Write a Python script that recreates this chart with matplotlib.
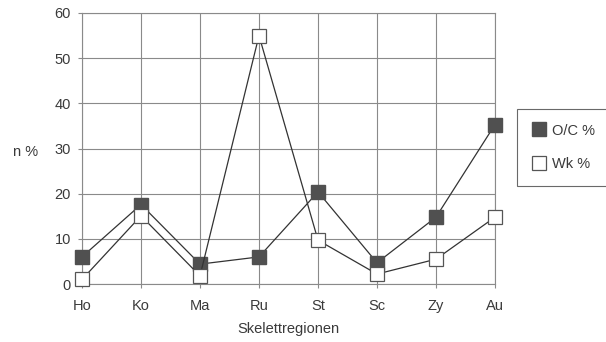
import matplotlib
matplotlib.use("Agg")
import matplotlib.pyplot as plt

categories = ["Ho", "Ko", "Ma", "Ru", "St", "Sc", "Zy", "Au"]
oc_values = [6, 17.6, 4.4, 6, 20.4, 4.7, 14.8, 35.3]
wk_values = [1.0, 15.1, 1.8, 55, 9.7, 2.2, 5.5, 14.8]
y_ticks = [0, 10, 20, 30, 40, 50, 60]

plt.rcParams['font.family'] = ['Liberation Sans', 'DejaVu Sans']
text_color = "#3a3a3a"
grid_color = "#8a8a8a"
fs = 10.5

fig = plt.figure(figsize=(6.06, 3.42), dpi=100)
ax = fig.add_axes([82/606, 1-284/342, (495-82)/606, (284-13)/342])

x = list(range(len(categories)))
ax.plot(x, oc_values, color="#333333", lw=0.9, marker="s", markersize=10,
        markerfacecolor="#505050", markeredgecolor="#505050", label="O/C %",
        zorder=3, clip_on=False)
ax.plot(x, wk_values, color="#333333", lw=0.9, marker="s", markersize=10,
        markerfacecolor="white", markeredgecolor="#555555", markeredgewidth=0.9,
        label="Wk %", zorder=4, clip_on=False)

ax.set_xlim(0, len(categories) - 1)
ax.set_ylim(0, 60)
ax.set_xticks(x)
ax.set_xticklabels(categories)
ax.set_yticks(y_ticks)
ax.grid(True, color=grid_color, lw=0.8)
ax.set_axisbelow(True)
for s in ax.spines.values():
    s.set_color(grid_color)
    s.set_linewidth(0.8)
    s.set_zorder(1)
ax.tick_params(axis="both", colors=grid_color, labelcolor=text_color,
               labelsize=fs, length=3, width=0.8, direction="out")
ax.tick_params(axis="x", pad=8)
ax.tick_params(axis="y", pad=5)
ax.set_xlabel("Skelettregionen", fontsize=fs, color=text_color, labelpad=6)
fig.text(13/606, 1-152/342, "n %", fontsize=fs, color=text_color, va="center", ha="left")

leg = fig.legend(loc="upper left", bbox_to_anchor=(517/606, 1-109/342),
                 frameon=True, fancybox=False, fontsize=fs, handlelength=1.0,
                 handletextpad=0.4, labelspacing=1.35, borderpad=1.0,
                 borderaxespad=0, labelcolor=text_color)
leg.get_frame().set_edgecolor("#444444")
leg.get_frame().set_linewidth(0.8)
for h in leg.legend_handles:
    h.set_linestyle("none")

fig.savefig("out.png", dpi=100)
